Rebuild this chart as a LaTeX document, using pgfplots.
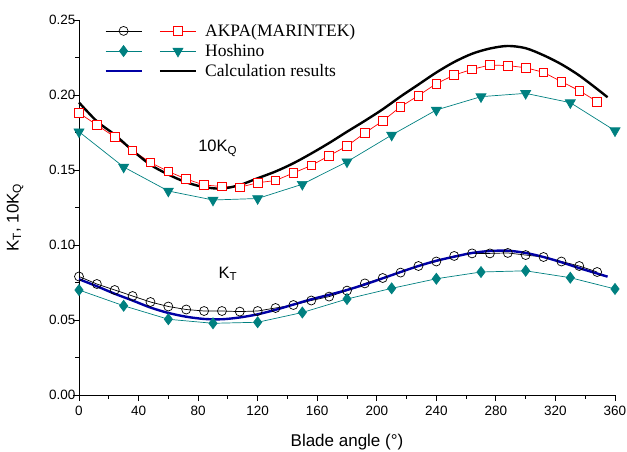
\documentclass[border=0pt]{standalone}
\usepackage{pgfplots}
\pgfplotsset{compat=1.18}
\usepackage{fontspec}
\setmainfont{Liberation Sans}
\newfontfamily\seriffont{Liberation Serif}
\definecolor{teal2}{RGB}{0,128,128}
\definecolor{navy2}{RGB}{0,0,165}
\begin{document}
\begin{tikzpicture}
\begin{axis}[
  name=ax,
  scale only axis, width=536pt, height=375pt,
  xmin=0, xmax=360, ymin=0, ymax=0.25,
  axis lines*=left,
  axis line style={line width=0.9pt},
  tick align=outside,
  xtick={0,40,...,360},
  ytick={0,0.05,...,0.25},
  minor x tick num=1, minor y tick num=1,
  major tick length=6pt, minor tick length=3.5pt,
  tick style={line width=0.8pt, black},
  /pgf/number format/assume math mode=true,
  xticklabel style={yshift=-2pt},
  yticklabel style={xshift=6pt, /pgf/number format/.cd, fixed, fixed zerofill, precision=2},
  scaled y ticks=false,
  ticklabel style={font=\fontsize{13.5}{15}\selectfont},
  label style={font=\fontsize{17}{19}\selectfont},
  xlabel={Blade angle (°)},
  ylabel={K\textsubscript{T}, 10K\textsubscript{Q}},
  xlabel style={at={(axis description cs:0.5,-0.138)}, anchor=base},
  ylabel style={at={(axis description cs:-0.097,0.473)}, anchor=south},
  clip=false,
  legend columns=2,
  legend cell align=left,
  legend style={draw=none, fill=none, inner sep=0pt, at={(axis description cs:0.047,0.995)}, anchor=north west,
    font=\seriffont\fontsize{17.5}{19}\selectfont,
    /tikz/every even column/.append style={column sep=6pt},
    row sep=2.5pt},
  legend image code/.code={\draw[mark repeat=2,mark phase=2] plot coordinates {(0pt,0pt)(18pt,0pt)(36pt,0pt)};\path (42pt,0pt);},
]
% AKPA KT
\addplot[black, line width=0.7pt, mark=o, mark size=4.5pt, mark options={fill=white, line width=0.7pt}] coordinates {
(0,0.079)(12,0.074)(24,0.070)(36,0.066)(48,0.062)(60,0.059)(72,0.057)(84,0.056)(96,0.056)(108,0.0556)
(120,0.056)(132,0.058)(144,0.060)(156,0.063)(168,0.0656)(180,0.0696)(192,0.0744)(204,0.078)(216,0.0816)(228,0.086)
(240,0.089)(252,0.0927)(264,0.0944)(276,0.0944)(288,0.0947)(300,0.0933)(312,0.092)(324,0.089)(336,0.086)(348,0.082)};
\addlegendentry{}
% AKPA 10KQ
\addplot[red, line width=0.7pt, mark=square*, mark size=4.3pt, mark options={fill=white, line width=0.8pt}] coordinates {
(0,0.188)(12,0.180)(24,0.172)(36,0.163)(48,0.155)(60,0.149)(72,0.144)(84,0.140)(96,0.139)(108,0.1385)
(120,0.1415)(132,0.143)(144,0.148)(156,0.153)(168,0.1595)(180,0.166)(192,0.1747)(204,0.1827)(216,0.1922)(228,0.1996)
(240,0.2076)(252,0.2133)(264,0.2171)(276,0.220)(288,0.2196)(300,0.2182)(312,0.2151)(324,0.2089)(336,0.2029)(348,0.1956)};
\addlegendentry{AKPA(MARINTEK)}
% Hoshino KT
\addplot[teal2, line width=0.7pt, mark=diamond*, mark size=5.5pt, mark options={fill=teal2}] coordinates {
(0,0.070)(30,0.0595)(60,0.0505)(90,0.0478)(120,0.0485)(150,0.055)(180,0.064)(210,0.0711)(240,0.0775)(270,0.082)(300,0.0828)(330,0.0782)(360,0.0707)};
\addlegendentry{}
% Hoshino 10KQ
\addplot[teal2, line width=0.7pt, mark=triangle*, mark size=5.8pt, mark options={fill=teal2, rotate=180}] coordinates {
(0,0.1755)(30,0.152)(60,0.136)(90,0.130)(120,0.131)(150,0.1405)(180,0.1555)(210,0.1733)(240,0.190)(270,0.1989)(300,0.2011)(330,0.1949)(360,0.1762)};
\addlegendentry{Hoshino}
% Calc KT
\addplot[navy2, line width=2.4pt, smooth, no marks] coordinates {
(0,0.0772)(12,0.0725)(24,0.0675)(36,0.063)(48,0.0583)(60,0.0547)(72,0.0522)(84,0.0507)(96,0.0505)(108,0.0517)
(120,0.0538)(132,0.0568)(144,0.0603)(156,0.0638)(168,0.0668)(180,0.0700)(192,0.0737)(204,0.0778)(216,0.0820)(228,0.0860)
(240,0.0895)(252,0.0922)(264,0.0947)(276,0.0960)(288,0.0962)(300,0.0947)(312,0.0920)(324,0.0885)(336,0.0846)(348,0.0810)(355,0.0789)};
\addlegendentry{}
% Calc 10KQ
\addplot[black, line width=2.4pt, smooth, no marks] coordinates {
(0,0.195)(12,0.1825)(24,0.1735)(36,0.163)(48,0.1535)(60,0.147)(72,0.1418)(84,0.1386)(96,0.1376)(108,0.140)
(120,0.1445)(132,0.149)(144,0.1545)(156,0.161)(168,0.168)(180,0.1755)(192,0.1828)(204,0.1905)(216,0.199)(228,0.207)
(240,0.215)(252,0.222)(264,0.2275)(276,0.231)(288,0.2327)(300,0.2312)(312,0.2265)(324,0.2205)(336,0.213)(348,0.204)(355,0.1985)};
\addlegendentry{Calculation results}
\node[anchor=base west, font=\fontsize{16.5}{18}\selectfont, inner sep=0pt] at (axis cs:80,0.1622) {10K\textsubscript{Q}};
\node[anchor=base west, font=\fontsize{16.5}{18}\selectfont, inner sep=0pt] at (axis cs:93.6,0.0778) {K\textsubscript{T}};
\end{axis}
\pgfresetboundingbox
\path ([xshift=-79pt,yshift=-56pt]ax.south west) rectangle ++(627pt,451pt);
\end{tikzpicture}
\end{document}
